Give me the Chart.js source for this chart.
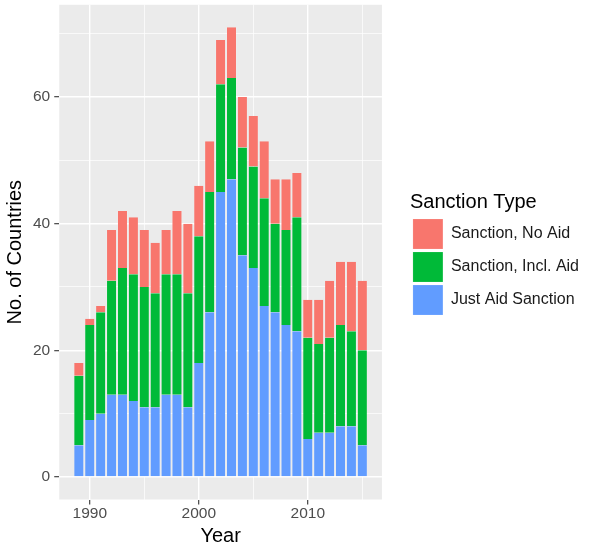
<!DOCTYPE html>
<html>
<head>
<meta charset="utf-8">
<script src="https://cdn.jsdelivr.net/npm/chart.js@4.4.1/dist/chart.umd.min.js"></script>
<style>
  html, body { margin: 0; padding: 0; background: #fff; }
  #wrap { width: 589px; height: 543px; position: relative; }
</style>
</head>
<body>
<div id="wrap"><canvas id="chart"></canvas></div>
<script>
const years = [1989, 1990, 1991, 1992, 1993, 1994, 1995, 1996, 1997, 1998, 1999, 2000, 2001, 2002,
  2003, 2004, 2005, 2006, 2007, 2008, 2009, 2010, 2011, 2012, 2013, 2014, 2015];

const justAid   = [5, 9, 10, 13, 13, 12, 11, 11, 13, 13, 11, 18, 26, 45, 47, 35, 33, 27, 26, 24, 23, 6, 7, 7, 8, 8, 5];
const inclAid   = [11, 15, 16, 18, 20, 20, 19, 18, 19, 19, 18, 20, 19, 17, 16, 17, 16, 17, 14, 15, 18, 16, 14, 15, 16, 15, 15];
const noAid     = [2, 1, 1, 8, 9, 9, 9, 8, 7, 10, 11, 8, 8, 7, 8, 8, 8, 9, 7, 8, 7, 6, 7, 9, 10, 11, 11];

const xTicks = [1990, 1995, 2000, 2005, 2010, 2015];
const xLabels = ['1990', '', '2000', '', '2010', ''];
const yTicks = [0, 10, 20, 30, 40, 50, 60, 70];
const yLabels = ['0', '', '20', '', '40', '', '60', ''];

const seriesNames = ['Just Aid Sanction', 'Sanction, Incl. Aid', 'Sanction, No Aid'];
const seriesColors = ['#619CFF', '#00BA38', '#F8766D'];

const FONT = '"Liberation Sans", Arial, Helvetica, sans-serif';

// grey panel behind the grid
const panelBg = {
  id: 'panelBg',
  beforeDraw(chart) {
    const { ctx, chartArea: a } = chart;
    ctx.save();
    ctx.fillStyle = '#EBEBEB';
    ctx.fillRect(a.left, a.top, a.right - a.left, a.bottom - a.top);
    ctx.restore();
  }
};

const toPoints = vals => vals.map((v, i) => ({ x: years[i], y: v }));

const datasets = [justAid, inclAid, noAid].map((vals, i) => ({
  label: seriesNames[i],
  data: toPoints(vals),
  backgroundColor: seriesColors[i],
  borderColor: 'rgba(255,255,255,0.55)',
  borderWidth: { left: 0.5, right: 0.5, top: 0, bottom: 0 },
  borderSkipped: false,
  categoryPercentage: 0.92,
  barPercentage: 1
}));

const tickVal = c => (c.tick ? c.tick.value : 1);
const isMajorY = c => tickVal(c) % 20 === 0;
const isMajorX = c => tickVal(c) % 10 === 0;

new Chart(document.getElementById('chart'), {
  type: 'bar',
  data: { datasets },
  options: {
    responsive: true,
    maintainAspectRatio: false,
    animation: false,
    layout: { padding: { top: 2, left: 3, right: 0, bottom: 0 } },
    plugins: {
      tooltip: { enabled: false },
      legend: {
        position: 'right',
        reverse: true,
        align: 'start',
        maxWidth: 260,
        title: {
          display: true,
          text: 'Sanction Type',
          position: 'start',
          color: '#000',
          font: { family: FONT, size: 20, lineHeight: 1.2 },
          padding: { top: 190, bottom: 0 }
        },
        labels: {
          boxWidth: 30,
          boxHeight: 30,
          padding: 3,
          color: '#1a1a1a',
          font: { family: FONT, size: 16 }
        }
      }
    },
    scales: {
      x: {
        type: 'linear',
        stacked: true,
        offset: false,
        min: 1987.2,
        max: 2016.8,
        afterBuildTicks: s => { s.ticks = xTicks.map(v => ({ value: v })); },
        ticks: {
          padding: 1.5,
          color: '#4D4D4D',
          font: { family: FONT, size: 15.5, lineHeight: 1 },
          callback: v => xLabels[xTicks.indexOf(v)] ?? ''
        },
        grid: {
          offset: false,
          color: '#FFFFFF',
          lineWidth: c => (isMajorX(c) ? 1.4 : 0.7),
          tickLength: 5,
          tickColor: c => (isMajorX(c) ? '#333333' : 'rgba(0,0,0,0)'),
          tickWidth: 1.1
        },
        border: { display: false },
        title: {
          display: true,
          text: 'Year',
          color: '#000',
          font: { family: FONT, size: 20, lineHeight: 0.7 },
          padding: { top: 6, bottom: 0 }
        }
      },
      y: {
        stacked: true,
        min: -3.55,
        max: 74.55,
        afterBuildTicks: s => { s.ticks = yTicks.map(v => ({ value: v })); },
        ticks: {
          padding: 4,
          color: '#4D4D4D',
          font: { family: FONT, size: 15.5, lineHeight: 0.1 },
          callback: v => yLabels[yTicks.indexOf(v)] ?? ''
        },
        grid: {
          color: '#FFFFFF',
          lineWidth: c => (isMajorY(c) ? 1.4 : 0.7),
          tickLength: 5,
          tickColor: c => (isMajorY(c) ? '#333333' : 'rgba(0,0,0,0)'),
          tickWidth: 1.1
        },
        border: { display: false },
        title: {
          display: true,
          text: 'No. of Countries',
          color: '#000',
          font: { family: FONT, size: 20, lineHeight: 1.2 },
          padding: { top: 0, bottom: 2 }
        }
      },
      // empty spacer between panel and legend
      gap: {
        type: 'linear',
        position: 'right',
        display: true,
        ticks: { display: false },
        grid: { display: false },
        border: { display: false },
        afterFit: s => { s.width = 28; }
      }
    }
  },
  plugins: [panelBg]
});
</script>
</body>
</html>
